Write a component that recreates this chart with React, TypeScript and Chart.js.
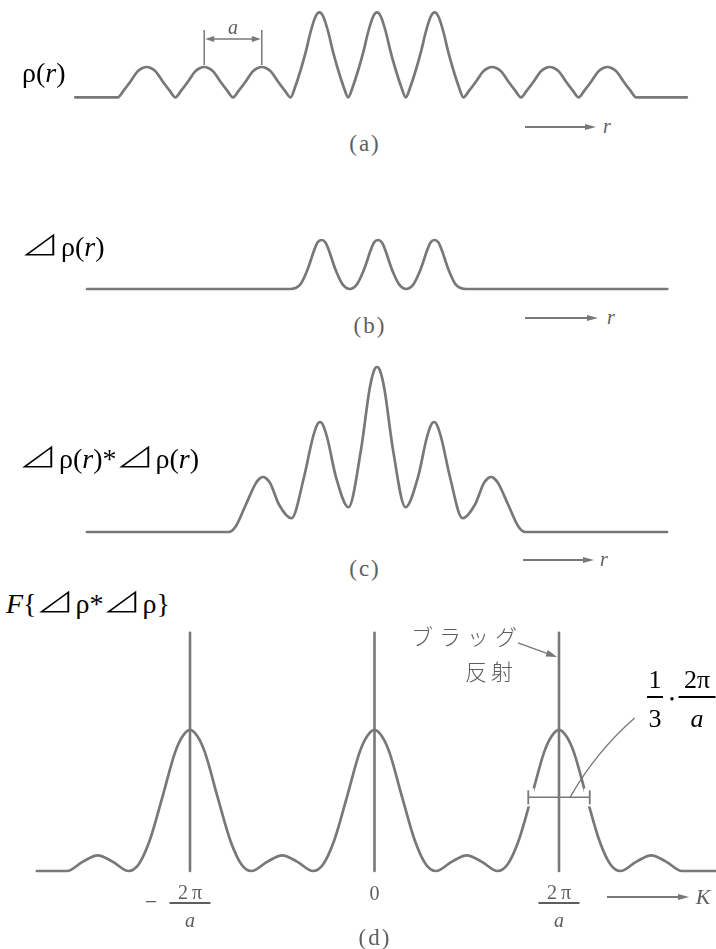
import React, { useEffect, useRef } from "react";
import { Chart, registerables } from "chart.js";

Chart.register(...registerables);

type Pt = [number, number];

// (a) ρ(r): nine atoms a apart (r in units of a); the middle three carry more electrons
const rhoR: Pt[] = [
  [-5.24, 0],
  [-4.5, 0], [-4.4, 0.22], [-4.28, 0.52], [-4.16, 0.85], [-4.07, 0.97], [-4, 1], [-3.93, 0.97], [-3.84, 0.85], [-3.72, 0.52], [-3.6, 0.22],
  [-3.5, 0], [-3.4, 0.22], [-3.28, 0.52], [-3.16, 0.85], [-3.07, 0.97], [-3, 1], [-2.93, 0.97], [-2.84, 0.85], [-2.72, 0.52], [-2.6, 0.22],
  [-2.5, 0], [-2.4, 0.22], [-2.28, 0.52], [-2.16, 0.85], [-2.07, 0.97], [-2, 1], [-1.93, 0.97], [-1.84, 0.85], [-1.72, 0.52], [-1.6, 0.22],
  [-1.5, 0], [-1.42, 0.35], [-1.31, 1.0], [-1.23, 1.55], [-1.157, 2.13], [-1.07, 2.65], [-1, 2.8], [-0.93, 2.65], [-0.843, 2.13], [-0.77, 1.55], [-0.69, 1.0], [-0.58, 0.35],
  [-0.5, 0], [-0.42, 0.35], [-0.31, 1.0], [-0.23, 1.55], [-0.157, 2.13], [-0.07, 2.65], [0, 2.8], [0.07, 2.65], [0.157, 2.13], [0.23, 1.55], [0.31, 1.0], [0.42, 0.35],
  [0.5, 0], [0.58, 0.35], [0.69, 1.0], [0.77, 1.55], [0.843, 2.13], [0.93, 2.65], [1, 2.8], [1.07, 2.65], [1.157, 2.13], [1.23, 1.55], [1.31, 1.0], [1.42, 0.35],
  [1.5, 0], [1.6, 0.22], [1.72, 0.52], [1.84, 0.85], [1.93, 0.97], [2, 1], [2.07, 0.97], [2.16, 0.85], [2.28, 0.52], [2.4, 0.22],
  [2.5, 0], [2.6, 0.22], [2.72, 0.52], [2.84, 0.85], [2.93, 0.97], [3, 1], [3.07, 0.97], [3.16, 0.85], [3.28, 0.52], [3.4, 0.22],
  [3.5, 0], [3.6, 0.22], [3.72, 0.52], [3.84, 0.85], [3.93, 0.97], [4, 1], [4.07, 0.97], [4.16, 0.85], [4.28, 0.52], [4.4, 0.22],
  [4.5, 0], [5.38, 0],
];

// (b) ⊿ρ(r): the excess density of the three heavy atoms
const deltaRho: Pt[] = [
  [-5.15, 0],
  [-1.55, 0], [-1.37, 0.1], [-1.265, 0.345], [-1.2, 0.55], [-1.14, 0.76], [-1.07, 0.95], [-1, 1], [-0.93, 0.95], [-0.86, 0.76], [-0.8, 0.55], [-0.735, 0.345], [-0.63, 0.1],
  [-0.5, 0], [-0.37, 0.1], [-0.265, 0.345], [-0.2, 0.55], [-0.14, 0.76], [-0.07, 0.95], [0, 1], [0.07, 0.95], [0.14, 0.76], [0.2, 0.55], [0.265, 0.345], [0.37, 0.1],
  [0.5, 0], [0.63, 0.1], [0.735, 0.345], [0.8, 0.55], [0.86, 0.76], [0.93, 0.95], [1, 1], [1.07, 0.95], [1.14, 0.76], [1.2, 0.55], [1.265, 0.345], [1.37, 0.1],
  [1.55, 0], [5.12, 0],
];

// (c) ⊿ρ * ⊿ρ: self-convolution, peaks 1 : 2 : 3 : 2 : 1
const selfConv: Pt[] = [
  [-5.09, 0], [-2.6, 0], [-2.48, 0.1], [-2.3, 0.5], [-2.13, 0.88], [-2.05, 0.98], [-2, 1], [-1.95, 0.98], [-1.87, 0.88], [-1.72, 0.5],
  [-1.5, 0.25], [-1.28, 1.0], [-1.13, 1.7], [-1.05, 1.95], [-1, 2], [-0.95, 1.95], [-0.87, 1.7], [-0.72, 1.0],
  [-0.5, 0.45], [-0.28, 1.5], [-0.13, 2.6], [-0.05, 2.94], [0, 3], [0.05, 2.94], [0.13, 2.6], [0.28, 1.5],
  [0.5, 0.45], [0.72, 1.0], [0.87, 1.7], [0.95, 1.95], [1, 2], [1.05, 1.95], [1.13, 1.7], [1.28, 1.0],
  [1.5, 0.25], [1.72, 0.5], [1.87, 0.88], [1.95, 0.98], [2, 1], [2.05, 0.98], [2.13, 0.88], [2.3, 0.5], [2.48, 0.1], [2.6, 0], [5.09, 0],
];

// (d) F{⊿ρ*⊿ρ}: K in units of 2π/a; main maxima 9, side maxima 1
const diffuse: Pt[] = [
  [-1.83, 0], [-1.667, 0], [-1.58, 0.6], [-1.5, 1], [-1.42, 0.6], [-1.333, 0],
  [-1.28, 0.4], [-1.22, 1.9], [-1.15, 4.7], [-1.08, 7.6], [-1.04, 8.6], [-1, 9], [-0.96, 8.6], [-0.92, 7.6], [-0.85, 4.7], [-0.78, 1.9], [-0.72, 0.4],
  [-0.667, 0], [-0.58, 0.6], [-0.5, 1], [-0.42, 0.6], [-0.333, 0],
  [-0.28, 0.4], [-0.22, 1.9], [-0.15, 4.7], [-0.08, 7.6], [-0.04, 8.6], [0, 9], [0.04, 8.6], [0.08, 7.6], [0.15, 4.7], [0.22, 1.9], [0.28, 0.4],
  [0.333, 0], [0.42, 0.6], [0.5, 1], [0.58, 0.6], [0.667, 0],
  [0.72, 0.4], [0.78, 1.9], [0.85, 4.7], [0.92, 7.6], [0.96, 8.6], [1, 9], [1.04, 8.6], [1.08, 7.6], [1.15, 4.7], [1.22, 1.9], [1.28, 0.4],
  [1.333, 0], [1.42, 0.6], [1.5, 1], [1.58, 0.6], [1.667, 0], [1.85, 0],
];

// Bragg reflections (sharp lines) at the reciprocal lattice points
const braggK = [-1, 0, 1];
const braggTop = 15.2;

// width of the diffuse maximum, in units of 2π/a, and the height it is marked at
const markedWidth = 1 / 3;
const markedLevel = 4.7;

// lattice spacing marker in (a)
const spacingFrom = -3;
const spacingTo = -2;

const W = 716;
const GRAY = "#787878";
const INK = "#5e5e5e";
const SERIF = '"Liberation Serif", "Times New Roman", serif';
const CJK = '"Noto Sans CJK JP", "Noto Sans CJK SC", sans-serif';

interface Frame { top: number; height: number; x0: number; sx: number; y0: number; sy: number }

const frameA: Frame = { top: 0, height: 115, x0: 377, sx: 57.6, y0: 97.3, sy: 30.3 };
const frameB: Frame = { top: 225, height: 80, x0: 378, sx: 56.5, y0: 289, sy: 49 };
const frameC: Frame = { top: 355, height: 195, x0: 377, sx: 57, y0: 532, sy: 55 };
const frameD: Frame = { top: 620, height: 265, x0: 374.5, sx: 184.5, y0: 871, sy: 15.67 };

const px = (f: Frame, v: number) => f.x0 + f.sx * v;

interface Series { points: Pt[]; smooth?: boolean; width?: number }
type Draw = (ctx: CanvasRenderingContext2D, X: (v: number) => number, Y: (v: number) => number) => void;

function arrowHead(ctx: CanvasRenderingContext2D, tx: number, ty: number, dx: number, dy: number, len: number, half: number) {
  const n = Math.hypot(dx, dy);
  const ux = dx / n;
  const uy = dy / n;
  ctx.beginPath();
  ctx.moveTo(tx, ty);
  ctx.lineTo(tx - ux * len - uy * half, ty - uy * len + ux * half);
  ctx.lineTo(tx - ux * len + uy * half, ty - uy * len - ux * half);
  ctx.closePath();
  ctx.fill();
}

const drawSpacing: Draw = (ctx, X, Y) => {
  const xa = X(spacingFrom);
  const xb = X(spacingTo);
  const yl = Y(1.92);
  ctx.save();
  ctx.strokeStyle = GRAY;
  ctx.fillStyle = GRAY;
  ctx.lineWidth = 1.5;
  for (const x of [xa, xb]) {
    ctx.beginPath();
    ctx.moveTo(x, Y(1.07));
    ctx.lineTo(x, Y(2.22));
    ctx.stroke();
  }
  ctx.beginPath();
  ctx.moveTo(xa + 6, yl);
  ctx.lineTo(xb - 6, yl);
  ctx.stroke();
  arrowHead(ctx, xa + 1, yl, -1, 0, 9, 3);
  arrowHead(ctx, xb - 1, yl, 1, 0, 9, 3);
  ctx.restore();
};

const drawWidthMark: Draw = (ctx, X, Y) => {
  const xl = X(1 - markedWidth / 2);
  const xr = X(1 + markedWidth / 2);
  const ym = Y(markedLevel);
  ctx.save();
  ctx.fillStyle = "#fff";
  ctx.fillRect(xl - 6, ym - 9, 12, 18);
  ctx.fillRect(xr - 6, ym - 9, 12, 18);
  ctx.strokeStyle = GRAY;
  ctx.fillStyle = GRAY;
  ctx.lineWidth = 1.8;
  for (const x of [xl, xr]) {
    ctx.beginPath();
    ctx.moveTo(x, ym - 7);
    ctx.lineTo(x, ym + 7);
    ctx.stroke();
  }
  ctx.lineWidth = 1.5;
  ctx.beginPath();
  ctx.moveTo(xl, ym);
  ctx.lineTo(xr, ym);
  ctx.stroke();
  // leader to the width label
  ctx.lineWidth = 1.3;
  ctx.beginPath();
  ctx.moveTo(X(1.06), ym);
  ctx.quadraticCurveTo(X(1.2), Y(7.6), X(1.41), Y(9.76));
  ctx.stroke();
  // arrow to the Bragg line
  const tx = X(1) - 2;
  const ty = Y(13.66);
  ctx.lineWidth = 1.4;
  ctx.beginPath();
  ctx.moveTo(tx - 39, ty - 14);
  ctx.lineTo(tx - 6, ty - 2);
  ctx.stroke();
  arrowHead(ctx, tx, ty, 39, 14, 11, 3.5);
  ctx.restore();
};

function Panel({ frame, series, draw }: { frame: Frame; series: Series[]; draw?: Draw }) {
  const ref = useRef<HTMLCanvasElement>(null);
  useEffect(() => {
    const { x0, sx, y0, sy, top, height } = frame;
    const plugins = draw
      ? [{
          id: "marks",
          afterDatasetsDraw: (c: any) =>
            draw(c.ctx, (v) => c.scales.x.getPixelForValue(v), (v) => c.scales.y.getPixelForValue(v)),
        }]
      : [];
    const chart = new Chart(ref.current!, {
      type: "line",
      data: {
        datasets: series.map((s) => ({
          data: s.points.map(([x, y]) => ({ x, y })),
          borderColor: GRAY,
          borderWidth: s.width ?? 2.7,
          pointRadius: 0,
          fill: false,
          tension: 0,
          cubicInterpolationMode: s.smooth === false ? "default" : "monotone",
          borderCapStyle: "round",
          borderJoinStyle: "round",
        })) as any,
      },
      options: {
        animation: false,
        responsive: false,
        devicePixelRatio: 1,
        events: [],
        layout: { padding: 0 },
        scales: {
          x: { type: "linear", display: false, min: -x0 / sx, max: (W - x0) / sx },
          y: { type: "linear", display: false, min: (y0 - top - height) / sy, max: (y0 - top) / sy },
        },
        plugins: { legend: { display: false }, tooltip: { enabled: false } },
      },
      plugins,
    });
    return () => chart.destroy();
  }, []);
  return <canvas ref={ref} width={W} height={frame.height} style={{ position: "absolute", left: 0, top: frame.top }} />;
}

function Text({ x, y, size, color = "#000", align = "center", children, style }: any) {
  const tx = align === "center" ? "-50%" : align === "left" ? "0" : "-100%";
  return (
    <div
      style={{
        position: "absolute", left: x, top: y, transform: `translate(${tx}, -50%)`,
        fontFamily: SERIF, fontSize: size, lineHeight: 1, color, whiteSpace: "nowrap", ...style,
      }}
    >
      {children}
    </div>
  );
}

function Frac({ cx, barY, num, den, size, color, bar, gapTop, gapBottom, barWidth }: any) {
  return (
    <div
      style={{
        position: "absolute", left: cx, top: barY - bar / 2 - gapTop - size, transform: "translateX(-50%)",
        display: "flex", flexDirection: "column", alignItems: "center",
        fontFamily: SERIF, fontSize: size, lineHeight: `${size}px`, color, whiteSpace: "nowrap",
      }}
    >
      <div style={{ height: size }}>{num}</div>
      <div style={{ marginTop: gapTop, height: bar, width: barWidth, background: color }} />
      <div style={{ marginTop: gapBottom, height: size }}>{den}</div>
    </div>
  );
}

function Arrow({ x1, x2, y, color = GRAY }: any) {
  const head = 11;
  return (
    <>
      <div style={{ position: "absolute", left: x1, top: y - 0.75, width: x2 - x1 - head + 1, height: 1.5, background: color }} />
      <div
        style={{
          position: "absolute", left: x2 - head, top: y - 3.5, width: 0, height: 0,
          borderLeft: `${head}px solid ${color}`, borderTop: "3.5px solid transparent", borderBottom: "3.5px solid transparent",
        }}
      />
    </>
  );
}

function Tri() {
  return (
    <span style={{ display: "inline-block", fontFamily: CJK, fontWeight: 300, transform: "scaleX(1.4)", margin: "0 7px 0 4px" }}>⊿</span>
  );
}

const RhoR = () => (
  <>
    ρ(<i>r</i>)
  </>
);

export default function App() {
  const tickY = 903;
  const tickFrac = (k: number, key: string, minus: boolean) => (
    <React.Fragment key={key}>
      {minus && <Text x={px(frameD, k) - 39} y={tickY - 1} size={22} color={INK}>−</Text>}
      <Frac
        cx={px(frameD, k)} barY={tickY} size={20} color={INK} bar={1.5} gapTop={0} gapBottom={6} barWidth={41}
        num={<span>2&thinsp;π</span>} den={<i>a</i>}
      />
    </React.Fragment>
  );
  return (
    <div style={{ position: "absolute", left: 0, top: 0, width: W, height: 949, background: "#fff", overflow: "hidden" }}>
      <Panel frame={frameA} series={[{ points: rhoR }]} draw={drawSpacing} />
      <Panel frame={frameB} series={[{ points: deltaRho }]} />
      <Panel frame={frameC} series={[{ points: selfConv }]} />
      <Panel
        frame={frameD}
        series={[
          ...braggK.map((k) => ({ points: [[k, 0], [k, braggTop]] as Pt[], smooth: false, width: 2.6 })),
          { points: diffuse },
        ]}
        draw={drawWidthMark}
      />

      {/* (a) */}
      <Text x={22} y={73} size={28} align="left"><RhoR /></Text>
      <Text x={px(frameA, (spacingFrom + spacingTo) / 2)} y={27} size={20} color={INK}><i>a</i></Text>
      <Text x={365} y={143} size={23} color={INK} style={{ letterSpacing: 2 }}>(a)</Text>
      <Arrow x1={525} x2={596} y={127} />
      <Text x={607} y={126} size={20} color={INK}><i>r</i></Text>

      {/* (b) */}
      <Text x={22} y={245} size={28} align="left"><Tri /><RhoR /></Text>
      <Text x={370} y={325} size={23} color={INK} style={{ letterSpacing: 2 }}>(b)</Text>
      <Arrow x1={525} x2={598} y={318} />
      <Text x={611} y={317} size={20} color={INK}><i>r</i></Text>

      {/* (c) */}
      <Text x={20} y={457} size={28} align="left"><Tri /><RhoR />*<Tri /><RhoR /></Text>
      <Text x={365} y={568} size={23} color={INK} style={{ letterSpacing: 2 }}>(c)</Text>
      <Arrow x1={523} x2={594} y={560} />
      <Text x={604} y={559} size={20} color={INK}><i>r</i></Text>

      {/* (d) */}
      <Text x={6} y={602} size={28} align="left"><i>F</i>{"{"}<Tri />ρ*<Tri />ρ{"}"}</Text>
      <Text x={467} y={635} size={22} color={INK} style={{ fontFamily: CJK, fontWeight: 300, letterSpacing: 6 }}>ブラッグ</Text>
      <Text x={491} y={670} size={22} color={INK} style={{ fontFamily: CJK, fontWeight: 300, letterSpacing: 4 }}>反射</Text>
      <Frac cx={655} barY={697} size={26} color="#000" bar={1.6} gapTop={3} gapBottom={8} barWidth={16} num="1" den="3" />
      <Text x={672} y={700} size={14}>•</Text>
      <Frac cx={697} barY={697} size={26} color="#000" bar={1.6} gapTop={3} gapBottom={8} barWidth={37} num="2π" den={<i>a</i>} />
      {tickFrac(-1, "neg", true)}
      <Text x={px(frameD, 0)} y={893} size={20} color={INK}>0</Text>
      {tickFrac(1, "pos", false)}
      <Arrow x1={607} x2={689} y={897} />
      <Text x={703} y={897} size={22} color={INK}><i>K</i></Text>
      <Text x={375} y={937} size={23} color={INK} style={{ letterSpacing: 2 }}>(d)</Text>
    </div>
  );
}
